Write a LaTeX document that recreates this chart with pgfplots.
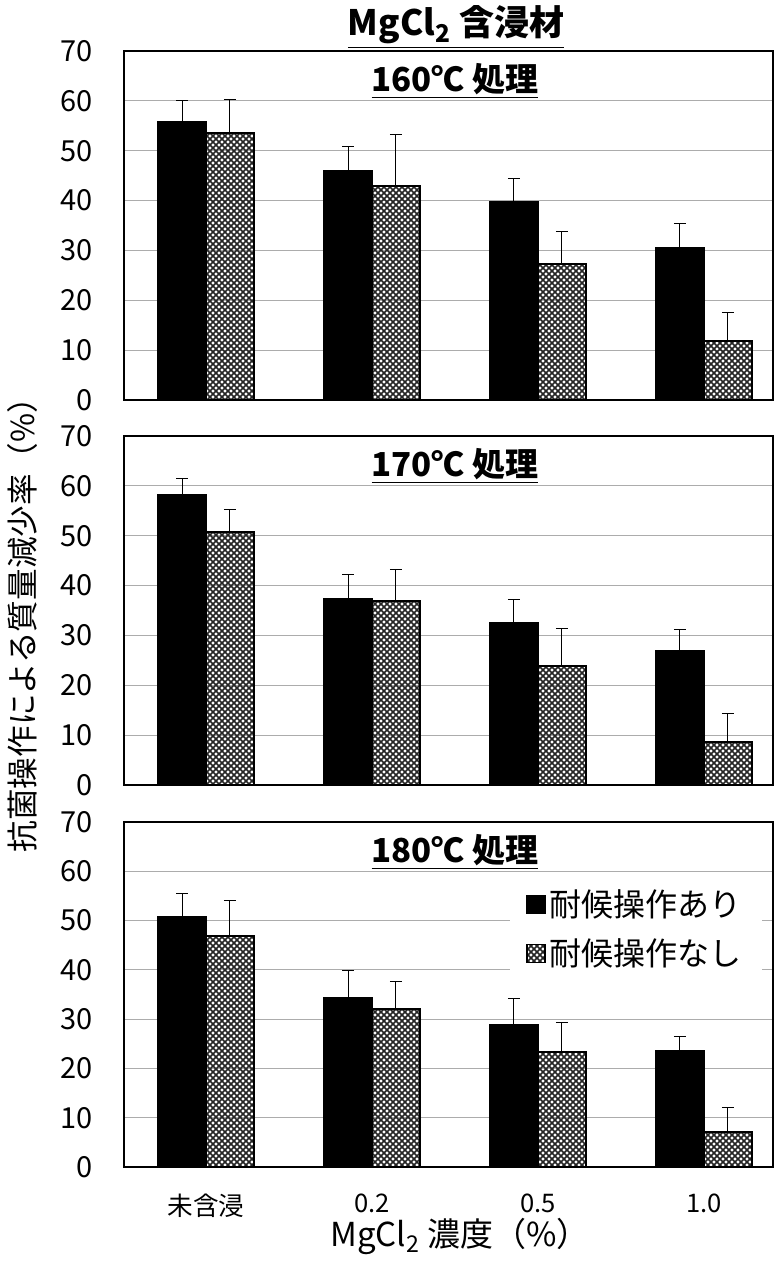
\documentclass[border=0pt]{standalone}
\usepackage{pgfplots}
\pgfplotsset{compat=1.18}
\usepackage{fontspec}
\setmainfont{Noto Sans CJK JP}
\usetikzlibrary{patterns}

% dense diagonal mesh used for the untreated series
\pgfdeclarepatternformonly{mesh}{\pgfqpoint{-0.5pt}{-0.5pt}}{\pgfqpoint{3.5pt}{3.5pt}}{\pgfqpoint{3pt}{3pt}}{%
  \pgfsetlinewidth{0.85pt}%
  \pgfpathmoveto{\pgfqpoint{-0.1pt}{-0.1pt}}\pgfpathlineto{\pgfqpoint{3.1pt}{3.1pt}}%
  \pgfpathmoveto{\pgfqpoint{-0.1pt}{3.1pt}}\pgfpathlineto{\pgfqpoint{3.1pt}{-0.1pt}}%
  \pgfusepath{stroke}}

\pgfplotsset{
  panel/.style={
    scale only axis,
    width=324.5pt,
    anchor=south west,
    ybar=0pt,
    bar width=0.289,
    xmin=-0.494, xmax=3.416,
    ymin=0, ymax=70,
    ytick={0,10,...,70},
    xtick={0,1,2,3},
    xticklabels={},
    major tick length=0pt,
    ymajorgrids,
    grid style={gray!65, line width=0.6pt},
    axis line style={black, line width=0.8pt},
    axis on top=false,
    /pgf/number format/assume math mode=true,
    yticklabel style={font=\fontsize{14.5}{16}\selectfont, xshift=-12pt},
    xticklabel style={font=\fontsize{12.8}{14}\selectfont},
    error bars/y dir=plus,
    error bars/y explicit,
    error bars/error bar style={black, line width=0.5pt},
    error bars/error mark options={rotate=90, mark size=3pt, line width=0.5pt, black},
  },
  withwx/.style={fill=black, draw=black, line width=0.8pt,
    legend image code/.code={\draw[fill=black, draw=black] (0pt,-4.5pt) rectangle (9pt,4.5pt);}},
  nowx/.style={pattern=mesh, pattern color=black!85, draw=black, line width=1pt,
    legend image code/.code={\draw[pattern=mesh, pattern color=black!85, draw=black, line width=0.8pt] (0pt,-4.5pt) rectangle (9pt,4.5pt);}},
}

\begin{document}
\begin{tikzpicture}
\path[use as bounding box] (0pt,0pt) rectangle (387pt,630.5pt);

% 160 C
\begin{axis}[panel, at={(62pt,430.5pt)}, height=174.5pt]
\addplot+[withwx] coordinates {(0,55.8) +- (0,4.2) (1,45.9) +- (0,5.0) (2,39.7) +- (0,4.8) (3,30.5) +- (0,4.8)};
\addplot+[nowx] coordinates {(0,53.5) +- (0,6.8) (1,42.9) +- (0,10.4) (2,27.3) +- (0,6.4) (3,11.9) +- (0,5.7)};
\end{axis}

% 170 C
\begin{axis}[panel, at={(62pt,238pt)}, height=174.5pt]
\addplot+[withwx] coordinates {(0,58.2) +- (0,3.2) (1,37.3) +- (0,5.0) (2,32.5) +- (0,4.8) (3,26.9) +- (0,4.2)};
\addplot+[nowx] coordinates {(0,50.7) +- (0,4.5) (1,36.9) +- (0,6.4) (2,23.9) +- (0,7.4) (3,8.6) +- (0,5.8)};
\end{axis}

% 180 C
\begin{axis}[panel, at={(62pt,47pt)}, height=172.5pt,
  xticklabels={未含浸,0.2,0.5,1.0},
  xticklabel style={yshift=-10pt},
  legend style={at={(0.983,0.84)}, anchor=north east, draw=none, fill=white,
    font=\fontsize{16}{17}\selectfont, row sep=5.5pt, inner xsep=8pt, inner ysep=4pt,
    cells={anchor=west}},
  legend cell align=left]
\addplot+[withwx] coordinates {(0,50.7) +- (0,4.7) (1,34.3) +- (0,5.5) (2,28.8) +- (0,5.3) (3,23.5) +- (0,2.9)};
\addplot+[nowx] coordinates {(0,46.9) +- (0,7.1) (1,32.0) +- (0,5.7) (2,23.3) +- (0,6.1) (3,7.1) +- (0,4.9)};
\legend{耐候操作あり,耐候操作なし}
\end{axis}

% titles and axis labels
\node[font=\bfseries\fontsize{17.5}{19}\selectfont] at (228pt,617pt) {\underline{MgCl\textsubscript{2} 含浸材}};
\node[font=\bfseries\fontsize{16.5}{18}\selectfont] at (227.5pt,590pt) {\underline{160℃ 処理}};
\node[font=\bfseries\fontsize{16.5}{18}\selectfont] at (227.5pt,397.5pt) {\underline{170℃ 処理}};
\node[font=\bfseries\fontsize{16.5}{18}\selectfont] at (227.5pt,204.5pt) {\underline{180℃ 処理}};
\node[font=\fontsize{16.5}{18}\selectfont] at (230pt,12pt) {MgCl\textsubscript{2} 濃度（\%）};
\node[font=\fontsize{15.8}{18}\selectfont, rotate=90] at (11pt,322pt) {抗菌操作による質量減少率（\%）};
\end{tikzpicture}
\end{document}
